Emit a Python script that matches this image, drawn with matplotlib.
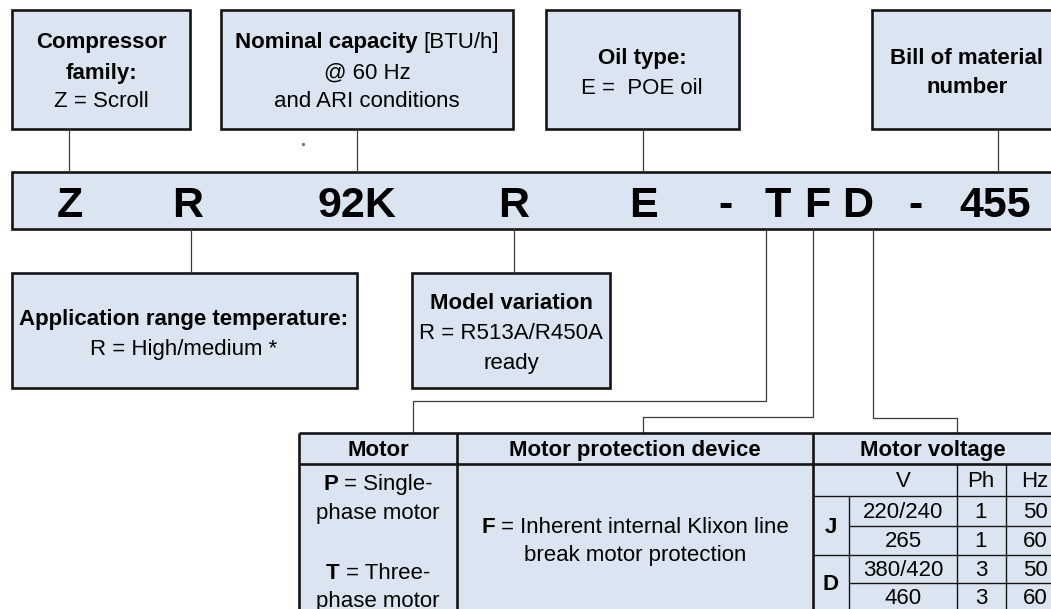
import matplotlib
matplotlib.use("Agg")
import matplotlib.pyplot as plt
from matplotlib.patches import Rectangle

# ---------------- data (texts) ----------------
code_parts = ["Z", "R", "92K", "R", "E", "-", "T", "F", "D", "-", "455"]

top_boxes = [
    [[("Compressor", "bold")], [("family:", "bold")], [("Z = Scroll", "normal")]],
    [[("Nominal capacity", "bold"), ("[BTU/h]", "normal")], [("@ 60 Hz", "normal")],
     [("and ARI conditions", "normal")]],
    [[("Oil type:", "bold")], [("E =  POE oil", "normal")]],
    [[("Bill of material", "bold")], [("number", "bold")]],
]
bottom_boxes = [
    [[("Application range temperature:", "bold")], [("R = High/medium *", "normal")]],
    [[("Model variation", "bold")], [("R = R513A/R450A", "normal")], [("ready", "normal")]],
]
table_headers = ["Motor", "Motor protection device", "Motor voltage"]
motor_lines = [[("P", "bold"), ("= Single-", "normal")], [("phase motor", "normal")],
               [("T", "bold"), ("= Three-", "normal")], [("phase motor", "normal")]]
protection_lines = [[("F", "bold"), ("= Inherent internal Klixon line", "normal")],
                    [("break motor protection", "normal")]]
voltage_cols = ["V", "Ph", "Hz"]
voltage_codes = ["J", "D"]
voltages = ["220/240", "265", "380/420", "460"]
phases = ["1", "1", "3", "3"]
freqs = ["50", "60", "50", "60"]

# ---------------- layout ----------------
W, H = 1051, 609
FILL = "#dbe5f1"
EDGE = "#151515"
LINE = "#3a3a3a"
FONT = "Liberation Sans"
FS = 16
YOFF = 1.5

fig = plt.figure(figsize=(W / 100, H / 100), dpi=100)
ax = fig.add_axes([0, 0, 1, 1])
ax.set_xlim(0, W)
ax.set_ylim(H, 0)
ax.axis("off")
renderer = fig.canvas.get_renderer()


def box(x0, y0, x1, y1, lw=1.9):
    ax.add_patch(Rectangle((x0, y0), x1 - x0, y1 - y0, facecolor=FILL,
                           edgecolor=EDGE, linewidth=lw, zorder=2))


def hline(x0, x1, y, lw=0.9, color=LINE, z=3):
    ax.plot([x0, x1], [y, y], color=color, lw=lw, solid_capstyle="butt", zorder=z)


def vline(x, y0, y1, lw=0.9, color=LINE, z=3):
    ax.plot([x, x], [y0, y1], color=color, lw=lw, solid_capstyle="butt", zorder=z)


def space_width(size):
    a = ax.text(0, 0, "a a", fontsize=size, family=FONT)
    b = ax.text(0, 0, "aa", fontsize=size, family=FONT)
    w = a.get_window_extent(renderer).width - b.get_window_extent(renderer).width
    a.remove(); b.remove()
    return w


SP = space_width(FS)


def rich(x, y, segs, size=FS):
    objs, widths = [], []
    for t, w in segs:
        o = ax.text(0, y + YOFF, t, fontsize=size, fontweight=w, family=FONT,
                    ha="left", va="center", color="black", zorder=5)
        widths.append(o.get_window_extent(renderer).width)
        objs.append(o)
    total = sum(widths) + SP * (len(segs) - 1)
    cur = x - total / 2
    for o, w in zip(objs, widths):
        o.set_x(cur)
        cur += w + SP


# ---- top boxes ----
top_rects = [(12, 10, 190, 129), (221, 10, 513, 129), (546, 10, 739, 129), (872, 10, 1062, 129)]
top_line_y = [[41, 72, 100], [41, 72, 100], [57, 87], [57, 86]]
top_text_x = [101, 367, 642, 967]
top_conn_x = [69, 357, 643, 998]
for (x0, y0, x1, y1), lines, ys, tx, cx in zip(top_rects, top_boxes, top_line_y, top_text_x, top_conn_x):
    box(x0, y0, x1, y1)
    for segs, y in zip(lines, ys):
        rich(tx, y, segs)
    vline(cx, y1, 172)

# stray dot
ax.plot([303], [144], marker="s", ms=1.2, color="#777777", zorder=3, lw=0)

# ---- main code bar ----
box(12, 172, 1062, 229)
code_x = [70, 188, 357, 514, 643, 725, 778, 817, 858, 915, 995]
for t, x in zip(code_parts, code_x):
    ax.text(x, 217, t, fontsize=31, fontweight="bold", family=FONT,
            ha="center", va="baseline", zorder=5)

# ---- bottom boxes ----
bot_rects = [(12, 273, 357, 388), (412, 273, 610, 388)]
bot_line_y = [[318, 348], [302, 332, 362]]
bot_text_x = [184, 511]
bot_conn_x = [191, 514]
for (x0, y0, x1, y1), lines, ys, tx, cx in zip(bot_rects, bottom_boxes, bot_line_y, bot_text_x, bot_conn_x):
    box(x0, y0, x1, y1)
    for segs, y in zip(lines, ys):
        rich(tx, y, segs)
    vline(cx, 229, y0)

# ---- connectors to the table ----
ax.plot([766, 766, 413, 413], [229, 401, 401, 433], color=LINE, lw=0.9, zorder=3)
ax.plot([813, 813, 643, 643], [229, 417, 417, 433], color=LINE, lw=0.9, zorder=3)
ax.plot([873, 873, 957, 957], [229, 418, 418, 433], color=LINE, lw=0.9, zorder=3)

# ---- table ----
T_TOP, T_HEAD, T_BOT = 433, 464, 613
C0, C1, C2, C3 = 299, 457, 813, 1062
VC = [849, 957, 1006]
ROWS = [464, 496, 526, 555, 583, 613]

ax.add_patch(Rectangle((C0, T_TOP), C3 - C0, T_BOT - T_TOP, facecolor=FILL,
                       edgecolor="none", zorder=1))
thick = 1.9
thin = 1.0
hline(C0, C3, T_TOP, lw=thick, color=EDGE)
hline(C0, C3, T_HEAD, lw=thick, color=EDGE)
for x in (C0, C1, C2):
    vline(x, T_TOP, T_BOT, lw=thick, color=EDGE)
# voltage grid
hline(C2, C3, ROWS[1], lw=thin, color=EDGE)
hline(C2, C3, ROWS[3], lw=thin, color=EDGE)
hline(VC[0], C3, ROWS[2], lw=thin, color=EDGE)
hline(VC[0], C3, ROWS[4], lw=thin, color=EDGE)
vline(VC[0], ROWS[1], T_BOT, lw=thin, color=EDGE)
vline(VC[1], ROWS[0], T_BOT, lw=thin, color=EDGE)
vline(VC[2], ROWS[0], T_BOT, lw=thin, color=EDGE)

head_x = [378, 635, 933]
for t, x in zip(table_headers, head_x):
    rich(x, 449, [(t, "bold")])

for segs, y in zip(motor_lines, [483, 512, 572, 600]):
    rich(378, y, segs)
for segs, y in zip(protection_lines, [526, 554]):
    rich(635, y, segs)

col_x = [903, 981, 1035]
for t, x in zip(voltage_cols, col_x):
    rich(x, 480, [(t, "normal")])
for t, y in zip(voltage_codes, [526, 583]):
    rich(831, y, [(t, "bold")])
row_y = [511, 540, 569, 597]
for v, p, f, y in zip(voltages, phases, freqs, row_y):
    rich(col_x[0], y, [(v, "normal")])
    rich(col_x[1], y, [(p, "normal")])
    rich(col_x[2], y, [(f, "normal")])

fig.savefig("out.png", dpi=100, facecolor="white")
